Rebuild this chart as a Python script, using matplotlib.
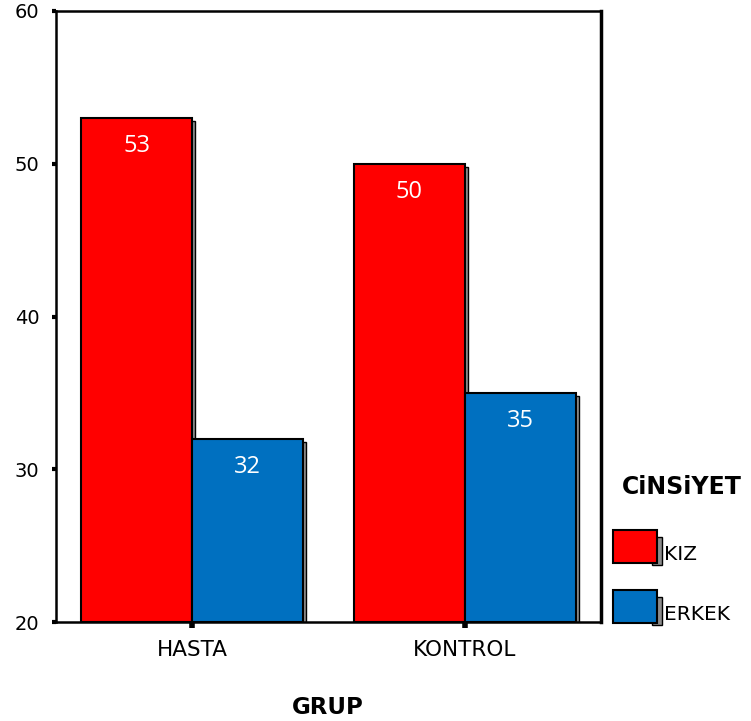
import matplotlib
matplotlib.use("Agg")
import matplotlib.pyplot as plt
import numpy as np
from matplotlib.patches import Rectangle
from matplotlib.transforms import offset_copy

# Veriler
groups = ["HASTA", "KONTROL"]
series = ["KIZ", "ERKEK"]
kiz = [53, 50]
erkek = [32, 35]
colors = ["#ff0000", "#0070c0"]
yticks = [20, 30, 40, 50, 60]

W, H = 751, 721
fig = plt.figure(figsize=(W / 100, H / 100), dpi=100)
ax = fig.add_axes([56 / W, 1 - 622 / H, (601 - 56) / W, (622 - 11) / H])

x = np.arange(len(groups))
w = 0.407
shadow_tr = offset_copy(ax.transData, fig=fig, x=3, y=-3, units="dots")

for vals, off, col in zip([kiz, erkek], [-w / 2, w / 2], colors):
    # gölgeler
    ax.bar(x + off, np.array(vals) - 20, w, bottom=20, color="#8c8c8c",
           edgecolor="black", linewidth=1, transform=shadow_tr, zorder=1)
    ax.bar(x + off, np.array(vals) - 20, w, bottom=20, color=col,
           edgecolor="black", linewidth=1.5, zorder=2)
    for xi, v in zip(x + off, vals):
        ax.annotate(str(v), (xi, v), xytext=(0, -28), textcoords="offset pixels",
                    ha="center", va="center", color="white", fontsize=17,
                    family="Open Sans", zorder=3)

ax.set_xlim(-0.5, 1.5)
ax.set_ylim(20, 60)
ax.set_yticks(yticks)
ax.set_yticklabels([str(t) for t in yticks], fontsize=14, family="DejaVu Sans")
ax.set_xticks(x)
ax.set_xticklabels(groups, fontsize=15.5, family="DejaVu Sans")
ax.tick_params(axis="y", length=3, width=3, pad=9)
ax.tick_params(axis="x", length=4, width=4, pad=9)
for s in ["left", "top", "bottom"]:
    ax.spines[s].set_linewidth(1.8)
ax.spines["right"].set_linewidth(2.5)

# x ekseni başlığı
fig.text(328 / W, 1 - 708 / H, "GRUP", ha="center", va="center",
         fontsize=16.5, fontweight="heavy", family="DejaVu Sans")

# lejant
fig.text(682 / W, 1 - 487 / H, "CiNSiYET", ha="center", va="center",
         fontsize=17, fontweight="heavy", family="DejaVu Sans")
for lab, col, top in zip(series, colors, [530, 590]):
    fig.patches.append(Rectangle((652 / W, 1 - (top + 35) / H), 10 / W, 28 / H,
                                 transform=fig.transFigure, facecolor="#8c8c8c",
                                 edgecolor="black", linewidth=1))
    fig.patches.append(Rectangle((613 / W, 1 - (top + 33) / H), 44 / W, 33 / H,
                                 transform=fig.transFigure, facecolor=col,
                                 edgecolor="black", linewidth=1.5))
    fig.text(664 / W, 1 - (top + 24) / H, lab, ha="left", va="center",
             fontsize=14.5, family="DejaVu Sans")

fig.savefig("out.png", dpi=100)
